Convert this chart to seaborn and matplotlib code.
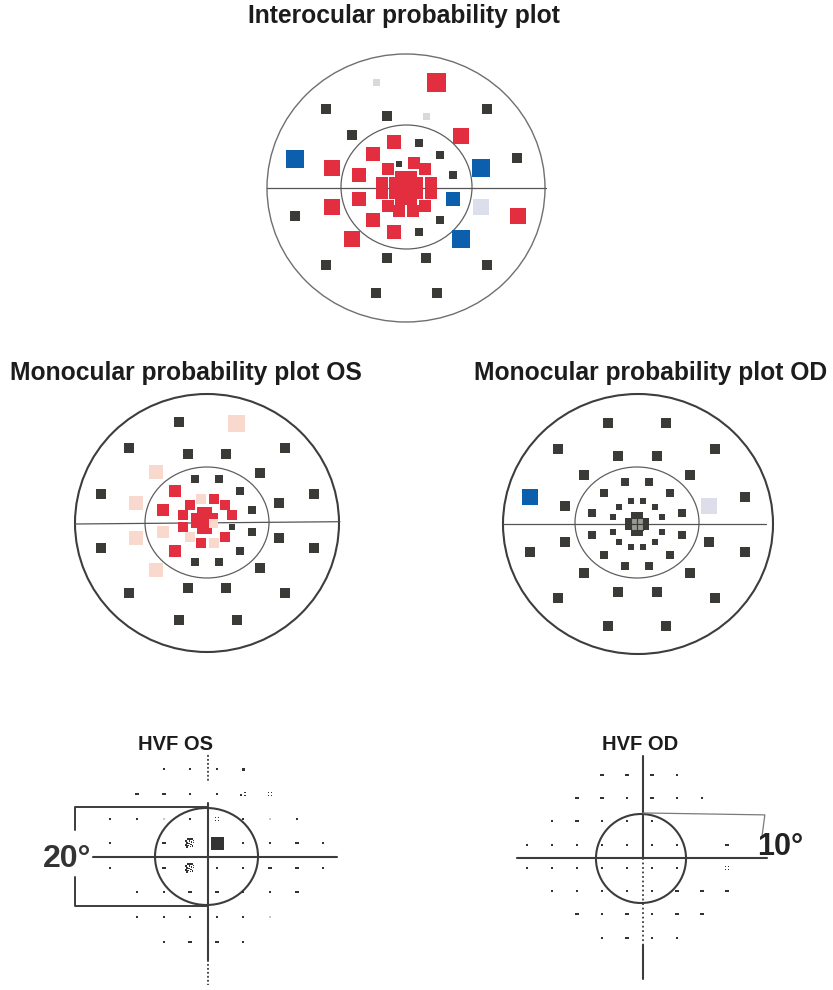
import numpy as np
import pandas as pd
import matplotlib
matplotlib.use("Agg")
import matplotlib.pyplot as plt
from matplotlib.patches import Ellipse
from matplotlib.path import Path
import seaborn as sns

sns.set_theme(style="white")
plt.rcParams["font.family"] = ["Liberation Sans", "DejaVu Sans"]

W, H, DPI = 833, 990, 100
PX = 72 / DPI  # points per pixel

# ---------------------------------------------------------------------------
# Probability plots: test locations (x right, y up, plot units from fixation)
# and the significance class of each location.
# ---------------------------------------------------------------------------
inter_x = [-30, 30, -80, -19, 20, 81, -54, 55, -111, 111, -74, 75,
           -111, -74, 75, 112, -54, 55, -80, -19, 20, 81, -30, 31,
           -12, 13, -33, 34, -47, 47, -47, 47, -33, 34, -12, 13,
           -7, 8, -18, 19, -24, 25, -24, 25, -18, 19, -7, 7,
           -5.5, 5.5, -5.5, 5.5, -5.5, 5.5, -5.5, 5.5, -11, 11, -11, 11]
inter_y = [106, 106, 79, 72, 72, 79, 53, 52, 29, 30, 20, 20,
           -28, -19, -19, -28, -51, -51, -77, -70, -70, -77, -105, -105,
           46, 45, 34, 33, 13, 13, -11, -11, -32, -32, -44, -44,
           24, 25, 19, 19, 5, 5, -5, -5, -18, -18, -23, -23,
           5.5, 5.5, -5.5, -5.5, 11, 11, -11, -11, 5.5, 5.5, -5.5, -5.5]
inter_level = ["g", "R3", "N", "N", "g", "N", "N", "R2", "B2", "N", "R2", "B2",
               "N", "R2", "L", "R2", "R2", "B2", "N", "N", "N", "N", "N", "N",
               "R2", "N", "R2", "N", "R2", "N", "R2", "B2", "R2", "N", "R2", "N",
               "N", "R2", "R2", "R2", "R2", "R2", "R2", "R2", "R2", "R2", "R2", "R2",
               "R2", "R2", "R2", "R2", "R2", "R2", "R2", "R2", "R2", "R2", "R2", "R2"]

os_x = [-28, 29, -78, -19, 19, 78, -51, 53, -106, -71, 72, 107,
        -106, -71, 72, 107, -51, 53, -78, -19, 19, 78, -28, 30,
        -12, 12, -32, 33, -44, 45, -44, 45, -32, 33, -12, 12,
        -6, 7, -17, 18, -24, 25, -24, 25, -17, 18, -6, 7,
        -5.5, 0.5, -5.5, 0.5, -5.5, 0.5, -5.5, 0.5, -11.5, 6.5, -11.5, 6.5]
os_y = [101, 100, 75, 69, 69, 75, 51, 50, 29, 20, 20, 29,
        -25, -15, -15, -25, -47, -45, -70, -65, -65, -70, -97, -97,
        44, 44, 32, 32, 13, 13, -9, -9, -28, -28, -39, -39,
        24, 24, 18, 18, 8, 8, -4, -4, -14, -14, -20, -20,
        5.5, 5.5, -0.5, -0.5, 11.5, 11.5, -6.5, -6.5, 5.5, 5.5, -0.5, -0.5]
os_level = ["N", "P2", "N", "N", "N", "N", "P1", "N", "N", "P1", "N", "N",
            "N", "P1", "N", "N", "P1", "N", "N", "N", "N", "N", "N", "N",
            "N", "N", "R1", "N", "R1", "N", "P1", "N", "R1", "N", "N", "N",
            "P1", "R1", "R1", "R1", "R1", "R1", "R1", "N", "P1", "R1", "R1", "P1",
            "R1", "R1", "R1", "R1", "R1", "R1", "R1", "R1", "R1", "R1", "R1", "P1"]

od_x = [-30, 28, -80, -20, 19, 77, -54, 52, -108, -73, 71, 107,
        -108, -73, 71, 107, -54, 52, -80, -20, 19, 77, -30, 28,
        -13, 11, -34, 32, -46, 44, -46, 44, -34, 32, -13, 11,
        -7, 5, -19, 17, -25, 24, -25, 24, -19, 17, -7, 5,
        -4, 2, -4, 2, -4, 2, -4, 2, -10, 8, -10, 8]
od_y = [101, 101, 75, 68, 68, 75, 49, 49, 27, 18, 18, 27,
        -28, -18, -18, -28, -49, -49, -74, -68, -68, -74, -102, -102,
        42, 42, 31, 31, 11, 11, -11, -11, -31, -31, -42, -42,
        23, 23, 17, 17, 7, 7, -8, -8, -18, -18, -23, -23,
        3, 3, -3, -3, 9, 9, -9, -9, 3, 3, -3, -3]
od_level = ["N", "N", "N", "N", "N", "N", "N", "N", "B1", "N", "L", "N",
            "N", "N", "N", "N", "N", "N", "N", "N", "N", "N", "N", "N",
            "N", "N", "N", "N", "N", "N", "N", "N", "N", "N", "N", "N",
            "N", "N", "N", "N", "N", "N", "N", "N", "N", "N", "N", "N",
            "n", "n", "n", "n", "N", "N", "N", "N", "N", "N", "N", "N"]

# ---------------------------------------------------------------------------
# Humphrey printouts: grid positions in degrees and the printed symbol
# ---------------------------------------------------------------------------
hvf_os_x = [-9, -3, 3, 9,
            -15, -9, -3, 3, 9, 15,
            -21, -15, -9, -3, 3, 9, 15, 21,
            -21, -9, -3, 3, 9, 15, 21, 27,
            -21, -9, -3, 3, 9, 15, 21, 27,
            -15, -9, -3, 3, 9, 15, 21,
            -15, -9, -3, 3, 9, 15,
            -9, -3, 3, 9]
hvf_os_y = [21, 21, 21, 21,
            15, 15, 15, 15, 15, 15,
            9, 9, 9, 9, 9, 9, 9, 9,
            3, 3, 3, 3, 3, 3, 3, 3,
            -3, -3, -3, -3, -3, -3, -3, -3,
            -9, -9, -9, -9, -9, -9, -9,
            -15, -15, -15, -15, -15, -15,
            -21, -21, -21, -21]
hvf_os_mark = ["dot", "dot", "dot", "blob",
               "dash", "dash", "dot", "dot", "dotpair", "quad",
               "dot", "dot", "faint", "dot", "quad", "dot", "faint", "dot",
               "dot", "dash", "swirl", "block", "dot", "dot", "dash", "dot",
               "dot", "dash", "swirl", "dot", "dot", "dash", "dash", "dot",
               "dot", "dot", "dash", "dash", "dot", "dot", "dash",
               "dot", "dot", "dot", "dot", "dot", "faint",
               "dot", "dash", "dash", "dot"]

hvf_od_x = [-9, -3, 3, 9,
            -15, -9, -3, 3, 9, 15,
            -21, -15, -9, -3, 3,
            -27, -21, -15, -9, -3, 3, 9, 21,
            -27, -21, -15, -9, -3, 3, 9, 21,
            -21, -15, -9, -3, 3, 9, 15, 21,
            -15, -9, -3, 3, 9, 15,
            -9, -3, 3, 9]
hvf_od_y = [21, 21, 21, 21,
            15, 15, 15, 15, 15, 15,
            9, 9, 9, 9, 9,
            3, 3, 3, 3, 3, 3, 3, 3,
            -3, -3, -3, -3, -3, -3, -3, -3,
            -9, -9, -9, -9, -9, -9, -9, -9,
            -15, -15, -15, -15, -15, -15,
            -21, -21, -21, -21]
hvf_od_mark = ["dash", "dash", "dash", "dot",
               "dash", "dash", "dot", "dash", "dot", "dot",
               "dot", "dash", "dot", "dot", "dot",
               "dot", "dot", "dot", "dot", "dot", "dot", "dot", "dash",
               "dot", "dot", "dot", "dot", "dot", "dot", "dot", "quad",
               "dot", "dot", "dot", "dot", "dot", "dash", "dash", "dash",
               "dash", "dot", "dash", "dot", "dash", "dash",
               "dot", "dash", "dot", "dot"]

titles = {
    "inter": "Interocular probability plot",
    "os": "Monocular probability plot OS",
    "od": "Monocular probability plot OD",
    "hvf_os": "HVF OS",
    "hvf_od": "HVF OD",
}

# ---------------------------------------------------------------------------
# Styles
# ---------------------------------------------------------------------------
LEVEL_COLOR = {"N": "#3a3a36", "n": "#9a9a95", "g": "#d9d9d9",
               "R1": "#e32e40", "R2": "#e32e40", "R3": "#e32e40",
               "P1": "#f9d8cd", "P2": "#f9d8cd",
               "B1": "#0b5fac", "B2": "#0b5fac", "L": "#dcdfeb"}
LEVEL_SIDE = {"N": 9.5, "n": 9.5, "g": 7, "R1": 14.5, "R2": 16.5, "R3": 19,
              "P1": 14.5, "P2": 17, "B1": 15.5, "B2": 17.5, "L": 15.5}


def ring_scale(r):
    # squares shrink toward fixation, following the denser central grid
    if r < 20:
        return 0.68
    if r < 32:
        return 0.70
    if r < 58:
        return 0.82
    return 1.0


fig = plt.figure(figsize=(W / DPI, H / DPI), dpi=DPI, facecolor="white")


def panel_axes(cx, cy, hw, hh, sx=1.0, sy=1.0):
    ax = fig.add_axes([(cx - hw) / W, 1 - (cy + hh) / H, 2 * hw / W, 2 * hh / H])
    ax.set_xlim(-hw / sx, hw / sx)
    ax.set_ylim(-hh / sy, hh / sy)
    ax.set_axis_off()
    return ax


def probability_plot(ax, xs, ys, levels, outer, inner, hline, edge_color, edge_lw):
    orx, ory = outer
    ax.add_patch(Ellipse((0, 0), 2 * orx, 2 * ory, fill=False,
                         ec=edge_color, lw=edge_lw, zorder=1))
    (icx, icy), (irx, iry) = inner
    ax.add_patch(Ellipse((icx, icy), 2 * irx, 2 * iry, fill=False,
                         ec="#5f5f5f", lw=0.9, zorder=1))
    (x0, y0), (x1, y1) = hline
    ax.plot([x0, x1], [y0, y1], color="#555555", lw=0.9, zorder=1)

    df = pd.DataFrame({"x": xs, "y": ys, "level": levels})
    r = np.hypot(df["x"], df["y"])
    side = df["level"].map(LEVEL_SIDE) * [ring_scale(v) for v in r]
    df["area"] = (side * PX) ** 2
    lo, hi = df["area"].min(), df["area"].max()
    solid = df[df["level"] != "n"]
    sns.scatterplot(data=solid, x="x", y="y", hue="level", palette=LEVEL_COLOR,
                    size="area", sizes=(lo, hi), size_norm=(lo, hi),
                    marker="s", linewidth=0, legend=False, ax=ax, zorder=3)
    hollow = df[df["level"] == "n"]
    if len(hollow):
        sns.scatterplot(data=hollow, x="x", y="y", color=LEVEL_COLOR["n"],
                        s=(hollow["area"].iloc[0]), marker="s",
                        edgecolor=LEVEL_COLOR["N"], linewidth=0.8,
                        legend=False, ax=ax, zorder=4)


# Interocular
ax = panel_axes(406, 188, 150, 145)
probability_plot(ax, inter_x, inter_y, inter_level, (139, 134),
                 ((0.5, 1), (65.5, 62)), ((-139, 0), (140, 0)), "#6f6f6f", 1.0)
# Monocular OS
ax = panel_axes(207, 523, 150, 145)
probability_plot(ax, os_x, os_y, os_level, (132, 129),
                 ((0, 0.5), (62, 55.5)), ((-132, -1), (133, 1.3)), "#3d3d3d", 1.5)
# Monocular OD
ax = panel_axes(638, 524, 150, 145)
probability_plot(ax, od_x, od_y, od_level, (135, 130),
                 ((-1, 1.5), (62, 55.5)), ((-135, 0), (128, 0)), "#3d3d3d", 1.5)


# ---------------------------------------------------------------------------
# Printout symbols as compound marker paths (pixel units)
# ---------------------------------------------------------------------------
def cells_path(cells, hw, hh=None):
    hh = hw if hh is None else hh
    verts, codes = [], []
    for cx, cy in cells:
        verts += [(cx - hw, cy - hh), (cx + hw, cy - hh), (cx + hw, cy + hh),
                  (cx - hw, cy + hh), (cx - hw, cy - hh)]
        codes += [Path.MOVETO, Path.LINETO, Path.LINETO, Path.LINETO, Path.CLOSEPOLY]
    return Path(verts, codes)


SYMBOLS = {
    "dot": (cells_path([(0, 0)], 1.0), "#333333"),
    "faint": (cells_path([(0, 0)], 1.0), "#c8c8c8"),
    "blob": (cells_path([(0, 0)], 1.5), "#333333"),
    "dash": (cells_path([(0, 0)], 1.8, 0.9), "#333333"),
    "quad": (cells_path([(-1.7, 1.6), (1.7, 1.6), (-1.7, -1.6), (1.7, -1.6)], 0.8), "#333333"),
    "dotpair": (cells_path([(-2.2, -1.0), (1.8, 1.6), (1.8, -1.6)], 0.8), "#333333"),
    "swirl": (cells_path([(-2, 4), (0, 4), (2, 4), (3.5, 2.5), (-4, 2), (-0.5, 2),
                          (1.5, 1), (3.5, 0.5), (-3, 0), (-1, -0.5), (1, -1.5),
                          (-4, -2), (-2, -2.5), (0.5, -3.5), (2.5, -3), (-3, -4)], 0.7),
              "#333333"),
    "block": (cells_path([(0, 0)], 6.5), "#333333"),
}


def hvf_plot(ax, xs, ys, marks):
    df = pd.DataFrame({"x": xs, "y": ys, "mark": marks})
    for name, grp in df.groupby("mark"):
        path, color = SYMBOLS[name]
        extent = np.abs(path.vertices).max()
        sns.scatterplot(data=grp, x="x", y="y", marker=path, color=color,
                        s=(2 * extent * PX) ** 2, linewidth=0,
                        legend=False, ax=ax, zorder=3)


LINE = "#3c3c3c"

# HVF OS (grid spacing 26.6 px horizontally, 24.6 px vertically per 6 deg)
sx, sy = 4.43, 4.1
ax = panel_axes(203.5, 855.5, 175, 140, sx, sy)
cxo, cyo = 0.95, -0.37
ax.plot([-24.9, 30.1], [cyo, cyo], color=LINE, lw=1.5, zorder=2)
ax.plot([cxo, cxo], [12.8, -25.5], color=LINE, lw=1.5, zorder=2)
ax.plot([cxo, cxo], [24.6, 18.2], color=LINE, lw=1.3, ls=(0, (1, 1.2)), zorder=2)
ax.plot([cxo, cxo], [-25.5, -31.6], color=LINE, lw=1.3, ls=(0, (1, 1.2)), zorder=2)
ax.add_patch(Ellipse((0.68, -0.24), 23.25, 23.66, fill=False, ec=LINE, lw=1.5, zorder=2))
ax.plot([cxo, -29.0, -29.0], [11.83, 11.83, 6.2], color=LINE, lw=1.4, zorder=2)
ax.plot([cxo, -29.0, -29.0], [-12.3, -12.3, -5.2], color=LINE, lw=1.4, zorder=2)
ax.text(-36.2, -2.8, "20°", fontsize=23, fontweight="bold", color="#333333",
        ha="left", va="baseline")
hvf_plot(ax, hvf_os_x, hvf_os_y, hvf_os_mark)

# HVF OD
sx, sy = 4.15, 3.87
ax = panel_axes(639.5, 856.3, 150, 140, sx, sy)
cxd, cyd = 0.84, -0.36
ax.plot([-29.5, 30.7], [cyd, cyd], color=LINE, lw=1.5, zorder=2)
ax.plot([cxd, cxd], [26.0, cyd], color=LINE, lw=1.5, zorder=2)
ax.plot([cxd, cxd], [cyd, -22.9], color=LINE, lw=1.3, ls=(0, (1, 1.5)), zorder=2)
ax.plot([cxd, cxd], [-22.9, -31.7], color=LINE, lw=1.5, zorder=2)
ax.add_patch(Ellipse((0.36, -0.57), 21.7, 23.0, fill=False, ec=LINE, lw=1.5, zorder=2))
ax.plot([cxd, 30.2, 29.5], [11.2, 10.7, 5.0], color="#7a7a7a", lw=0.9, zorder=2)
ax.text(28.3, 0.34, "10°", fontsize=22, fontweight="bold", color="#222222",
        ha="left", va="baseline")
hvf_plot(ax, hvf_od_x, hvf_od_y, hvf_od_mark)

# Panel titles
def title(key, x, y, size=17.7):
    fig.text(x / W, 1 - y / H, titles[key], fontsize=size, fontweight="bold",
             color="#1c1c1c", ha="center", va="baseline")

title("inter", 404, 23.5)
title("os", 186, 380)
title("od", 651, 380)
title("hvf_os", 176, 750, 14.5)
title("hvf_od", 640, 750, 14.5)

fig.savefig("out.png", dpi=DPI, facecolor="white")
